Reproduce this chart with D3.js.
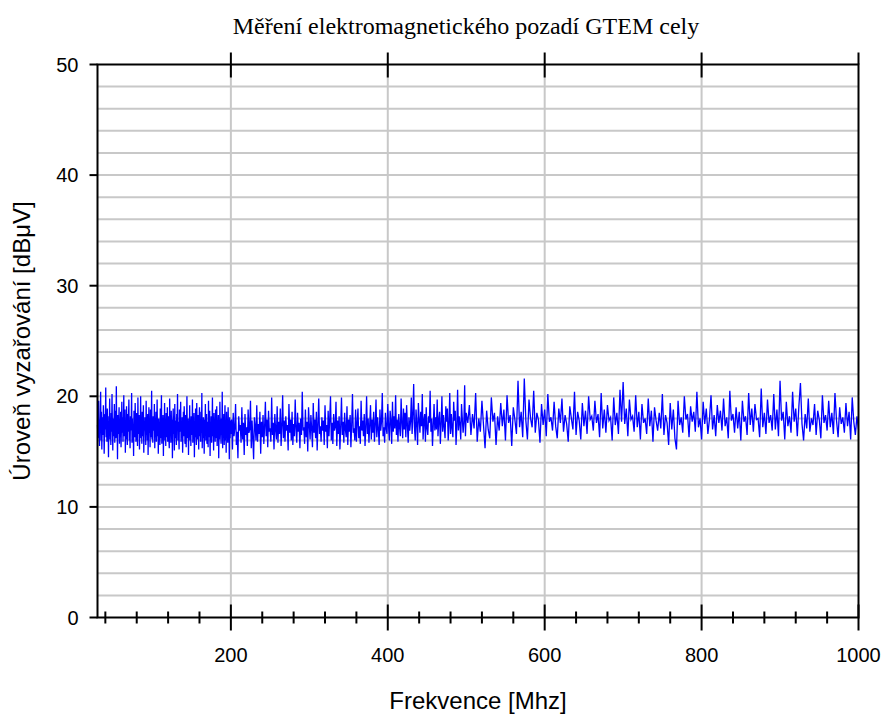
<!DOCTYPE html>
<html>
<head>
<meta charset="utf-8">
<script src="https://cdn.jsdelivr.net/npm/d3@7"></script>
<style>
  body { margin: 0; background: #fff; }
  svg { display: block; }
  .tick-label { font-family: "Liberation Sans", Arial, sans-serif; font-size: 20px; fill: #000; }
  .axis-title { font-family: "Liberation Sans", Arial, sans-serif; font-size: 24px; fill: #000; }
  .chart-title { font-family: "Liberation Serif", "Times New Roman", serif; font-size: 24px; fill: #000; }
</style>
</head>
<body>
<svg id="chart" width="884" height="715"></svg>
<script>
const chartTitle = 'Měření elektromagnetického pozadí GTEM cely';
const xTitle = 'Frekvence [Mhz]';
const yTitle = 'Úroveň vyzařování [dBμV]';

const xDomain = [30, 1000];
const yDomain = [0, 50];
const xMajorTicks = [200, 400, 600, 800, 1000];
const xMinorStep = 40;
const yMajorTicks = [0, 10, 20, 30, 40, 50];
const yGridStep = 2;

// sweep A: 30..200 MHz, 0.5 MHz step
const sweepA = { start: 30, step: 0.5 };
const levelsA = [
  17.4,16.2,18.3,19.6,16.8,15.5,17.9,17.1,20.4,16.0,18.6,15.2,17.3,18.1,16.5,19.2,17.6,14.8,16.9,18.4,
  17.0,20.8,16.3,17.8,15.9,18.9,16.6,17.5,14.5,18.2,17.2,19.8,16.1,17.7,15.6,18.5,16.8,20.2,17.3,15.1,
  18.0,16.4,17.6,19.3,15.8,17.1,18.7,16.2,20.9,16.9,17.8,14.3,18.3,16.6,17.4,19.0,15.7,17.9,16.3,18.6,
  15.4,17.2,19.5,16.7,18.1,15.9,17.5,20.1,16.4,17.0,18.8,14.9,17.7,16.1,19.1,17.3,15.6,18.4,16.8,17.9,
  19.7,16.0,17.4,15.3,18.2,16.9,17.6,20.3,15.8,18.0,16.5,17.2,14.6,18.7,17.1,16.3,19.4,17.8,15.9,16.7,
  18.5,17.0,15.5,19.9,16.6,17.7,18.3,15.2,17.4,16.8,20.0,16.2,17.9,15.7,18.6,17.2,16.4,19.2,14.9,17.5,
  16.9,18.1,17.3,15.6,19.6,16.5,17.8,16.0,18.4,14.7,17.1,19.0,16.7,17.6,15.4,18.8,16.3,17.4,20.5,16.1,
  17.7,15.8,18.2,16.9,17.0,19.3,15.3,17.5,16.6,18.6,15.9,17.2,19.7,16.4,17.9,14.8,18.0,16.8,17.3,15.6,
  18.9,16.2,17.6,20.1,15.7,17.1,16.5,18.3,14.6,17.8,16.9,19.4,16.0,17.4,15.5,18.5,17.0,16.3,19.0,15.9,
  17.6,18.2,16.1,15.3,19.8,16.8,17.3,15.8,18.7,16.4,17.9,14.4,17.2,18.9,16.6,17.5,15.1,19.3,16.2,17.8,
  16.7,15.6,18.4,17.1,20.2,16.0,17.7,16.5,15.2,18.8,17.3,16.8,19.5,15.9,17.4,16.3,18.1,14.9,17.0,18.6,
  16.4,19.1,17.8,15.7,16.9,18.3,15.4,17.5,20.0,16.2,17.2,18.0,14.7,17.6,16.6,19.2,16.0,17.9,15.5,18.2,
  17.1,16.5,19.7,15.8,17.4,16.9,18.5,14.5,17.7,16.3,18.9,16.8,15.6,19.4,17.0,16.1,18.3,17.5,15.2,17.8,
  19.0,16.4,17.3,15.9,18.6,16.7,20.3,15.3,17.6,16.2,18.1,17.0,14.8,17.9,16.5,19.3,16.0,17.4,18.4,15.7,
  16.8,17.7,15.4,19.6,16.3,17.2,18.7,14.6,17.5,16.9,18.2,15.8,17.1,19.9,16.4,17.6,15.1,18.5,16.7,17.3,
  15.9,18.8,17.0,16.2,19.1,15.5,17.8,16.6,18.3,14.4,17.4,16.1,19.5,16.8,17.2,15.7,18.0,16.5,20.4,15.3,
  17.6,16.9,18.4,15.6,17.1,19.2,16.0,17.7,14.9,18.6,16.4,17.3,15.8,19.0,16.7,17.5,14.3,18.1,16.2,17.8,
  16.6
];

// sweep B: 201..500 MHz, 1 MHz step
const sweepB = { start: 201, step: 1 };
const levelsB = [
  17.9,15.2,18.5,16.4,17.1,19.3,15.6,16.8,14.4,18.2,16.9,17.4,15.8,19.0,16.1,17.6,14.7,18.4,16.5,17.2,
  15.5,18.8,16.7,17.0,19.6,15.3,17.8,16.2,14.3,18.1,17.3,16.0,19.2,15.9,17.5,16.6,18.6,14.8,17.7,16.3,
  18.3,15.7,17.2,19.5,16.4,17.9,15.4,18.7,16.8,17.1,15.9,19.9,16.5,17.6,15.2,18.4,17.0,16.1,19.1,15.8,
  17.7,16.6,18.9,15.5,17.3,20.1,16.2,17.8,15.9,18.2,16.9,17.4,15.1,19.3,16.7,17.9,16.0,18.6,15.6,17.5,
  16.4,19.7,17.1,15.8,18.5,16.8,17.6,15.3,18.0,16.5,20.4,16.9,17.2,15.7,18.8,16.3,17.7,15.0,19.0,17.4,
  16.1,18.3,17.0,15.4,19.4,16.7,17.9,16.2,18.6,15.1,17.5,19.8,16.6,17.3,15.9,18.1,16.9,17.8,15.6,19.2,
  16.8,17.4,15.3,18.7,16.4,17.9,20.0,16.0,17.6,15.7,18.4,16.9,17.2,19.5,15.5,17.8,16.6,18.2,15.2,17.3,
  19.9,16.5,17.7,15.8,18.5,17.0,16.3,19.1,15.6,17.9,16.8,18.3,15.4,17.4,20.2,16.7,17.1,16.0,18.8,15.9,
  17.6,18.9,16.2,17.3,15.7,19.6,16.9,17.8,16.4,18.4,15.5,17.2,20.0,16.6,18.0,15.8,17.5,19.2,16.1,17.9,
  16.7,18.6,15.9,17.4,19.7,16.3,18.1,17.0,15.6,18.8,16.9,17.7,20.3,16.4,17.2,15.8,18.5,17.1,16.6,19.3,
  17.3,16.0,18.7,17.8,15.7,19.5,16.8,18.2,17.1,20.1,16.5,17.9,15.9,18.4,17.2,16.4,19.8,17.6,16.2,18.9,
  17.0,18.5,16.3,19.2,17.4,15.8,18.1,16.9,17.7,19.9,16.6,18.3,21.1,17.2,16.0,18.8,17.5,15.6,19.4,17.9,
  16.7,18.6,17.3,20.2,16.1,17.8,18.4,15.9,19.0,17.1,16.5,18.2,17.6,20.5,16.8,18.0,15.5,17.4,19.3,16.9,
  18.1,17.0,19.7,16.4,17.9,18.6,15.7,17.5,20.0,16.8,18.3,17.2,16.2,19.1,17.7,18.9,16.0,17.4,20.3,16.6,
  18.4,17.1,16.3,19.5,17.8,18.7,15.6,17.3,20.6,16.9,18.2,17.5,16.1,19.3,18.0,16.7,17.6,21.0,16.4,18.5
];

// sweep C: 502..1000 MHz, 2 MHz step
const sweepC = { start: 502, step: 2 };
const levelsC = [
  17.6,19.2,16.5,18.4,17.1,20.3,15.9,18.0,16.8,19.6,17.4,15.3,18.7,17.0,16.2,19.9,17.7,18.5,15.6,18.2,
  16.9,19.4,17.3,18.8,16.0,20.1,17.6,18.3,15.5,19.0,17.9,16.6,21.4,17.2,18.6,16.3,21.6,17.8,16.1,19.7,
  18.0,17.2,20.5,16.7,18.5,17.9,15.8,19.3,17.4,18.8,16.4,20.2,17.7,18.1,16.9,19.5,17.3,16.2,18.9,17.6,
  19.8,16.8,18.3,17.5,15.9,19.1,18.0,17.0,20.4,16.5,18.6,17.8,16.1,19.4,17.3,18.7,16.6,20.0,17.9,18.2,
  16.9,19.6,17.6,18.4,16.3,20.3,17.1,18.8,16.7,19.2,17.8,18.1,16.0,19.9,17.4,18.5,16.6,20.6,17.7,21.3,
  17.5,18.9,16.4,19.7,17.9,18.2,16.8,20.1,17.2,18.6,16.1,19.3,17.6,18.0,16.6,19.8,17.3,18.7,15.9,19.0,
  17.8,16.9,18.5,17.1,20.2,16.5,18.3,17.6,15.6,19.4,17.0,18.8,16.2,15.2,19.6,17.4,18.1,16.7,20.0,17.9,
  18.4,16.3,19.1,17.7,18.6,16.8,20.4,17.2,18.0,16.1,19.5,17.5,18.9,16.6,17.9,20.1,17.0,18.3,16.4,19.2,
  17.6,18.7,16.9,19.8,17.3,18.1,16.2,20.5,17.8,18.4,16.7,19.0,17.1,18.6,16.0,19.6,17.7,18.2,16.5,20.3,
  17.4,18.9,16.8,19.3,17.9,18.0,16.3,20.7,17.2,18.5,16.6,19.7,17.6,18.3,16.9,20.2,17.0,18.8,16.4,21.4,
  17.8,18.6,16.1,19.5,17.3,18.2,16.7,20.4,17.7,18.9,16.4,19.1,21.2,17.5,16.0,18.4,17.1,19.8,16.8,18.0,
  17.4,19.3,16.5,18.7,17.9,16.2,20.1,17.6,18.3,16.9,19.6,17.2,18.5,16.6,20.3,17.8,16.3,19.0,17.5,18.1,
  16.7,19.4,17.3,18.6,16.1,19.9,17.7,16.5,18.2,17.0
];

const margin = { top: 64.5, right: 25.5, bottom: 97.5, left: 97.5 };
const width = 884, height = 715;

function toPoints(sweep, levels) {
  return levels.map((v, i) => ({ f: sweep.start + i * sweep.step, v: v }));
}

const points = toPoints(sweepA, levelsA)
  .concat(toPoints(sweepB, levelsB))
  .concat(toPoints(sweepC, levelsC));

const svg = d3.select('#chart');

const x = d3.scaleLinear().domain(xDomain).range([margin.left, width - margin.right]);
const y = d3.scaleLinear().domain(yDomain).range([height - margin.bottom, margin.top]);

const x0 = x.range()[0], x1 = x.range()[1];
const y0 = y.range()[0], y1 = y.range()[1];

// grid
const yGrid = d3.range(yDomain[0] + yGridStep, yDomain[1], yGridStep);
svg.append('g')
  .selectAll('line')
  .data(yGrid)
  .enter()
  .append('line')
  .attr('x1', x0).attr('x2', x1)
  .attr('y1', d => y(d)).attr('y2', d => y(d))
  .attr('stroke', '#c8c8c8')
  .attr('stroke-width', 2);

svg.append('g')
  .selectAll('line')
  .data(xMajorTicks.filter(d => d < xDomain[1]))
  .enter()
  .append('line')
  .attr('x1', d => x(d)).attr('x2', d => x(d))
  .attr('y1', y0).attr('y2', y1)
  .attr('stroke', '#c8c8c8')
  .attr('stroke-width', 2);

// data line
svg.append('path')
  .datum(points)
  .attr('fill', 'none')
  .attr('stroke', '#0000ff')
  .attr('stroke-width', 1.3)
  .attr('d', d3.line().x(d => x(d.f)).y(d => y(d.v)));

// frame
svg.append('rect')
  .attr('x', x0).attr('y', y1)
  .attr('width', x1 - x0).attr('height', y0 - y1)
  .attr('fill', 'none')
  .attr('stroke', '#000')
  .attr('stroke-width', 2);

// bottom axis: minor ticks cross the line, majors longer
const xMinor = d3.range(Math.ceil(xDomain[0] / xMinorStep) * xMinorStep, xDomain[1], xMinorStep)
  .filter(d => xMajorTicks.indexOf(d) < 0);
const ticks = svg.append('g').attr('stroke', '#000').attr('stroke-width', 2);
ticks.selectAll('.xminor')
  .data(xMinor)
  .enter()
  .append('line')
  .attr('class', 'xminor')
  .attr('x1', d => x(d)).attr('x2', d => x(d))
  .attr('y1', y0 - 6).attr('y2', y0 + 6);
ticks.selectAll('.xmajor')
  .data(xMajorTicks)
  .enter()
  .append('line')
  .attr('class', 'xmajor')
  .attr('x1', d => x(d)).attr('x2', d => x(d))
  .attr('y1', y0 - 13).attr('y2', y0 + 13);
// top axis: majors cross
ticks.selectAll('.xtop')
  .data(xMajorTicks)
  .enter()
  .append('line')
  .attr('class', 'xtop')
  .attr('x1', d => x(d)).attr('x2', d => x(d))
  .attr('y1', y1 - 12).attr('y2', d => d === xDomain[1] ? y1 : y1 + 13);
// left axis: outward majors
ticks.selectAll('.ymajor')
  .data(yMajorTicks)
  .enter()
  .append('line')
  .attr('class', 'ymajor')
  .attr('x1', x0 - 8).attr('x2', x0)
  .attr('y1', d => y(d)).attr('y2', d => y(d));

// tick labels
svg.append('g')
  .selectAll('text')
  .data(xMajorTicks)
  .enter()
  .append('text')
  .attr('class', 'tick-label')
  .attr('x', d => x(d))
  .attr('y', y0 + 44)
  .attr('text-anchor', 'middle')
  .text(d => d);

svg.append('g')
  .selectAll('text')
  .data(yMajorTicks)
  .enter()
  .append('text')
  .attr('class', 'tick-label')
  .attr('x', x0 - 19)
  .attr('y', d => y(d) + 7)
  .attr('text-anchor', 'end')
  .text(d => d);

// titles
svg.append('text')
  .attr('class', 'chart-title')
  .attr('x', 466)
  .attr('y', 34)
  .attr('text-anchor', 'middle')
  .text(chartTitle);

svg.append('text')
  .attr('class', 'axis-title')
  .attr('x', (x0 + x1) / 2)
  .attr('y', 709)
  .attr('text-anchor', 'middle')
  .text(xTitle);

svg.append('text')
  .attr('class', 'axis-title')
  .attr('transform', 'translate(30,' + ((y0 + y1) / 2) + ') rotate(-90)')
  .attr('text-anchor', 'middle')
  .text(yTitle);
</script>
</body>
</html>
